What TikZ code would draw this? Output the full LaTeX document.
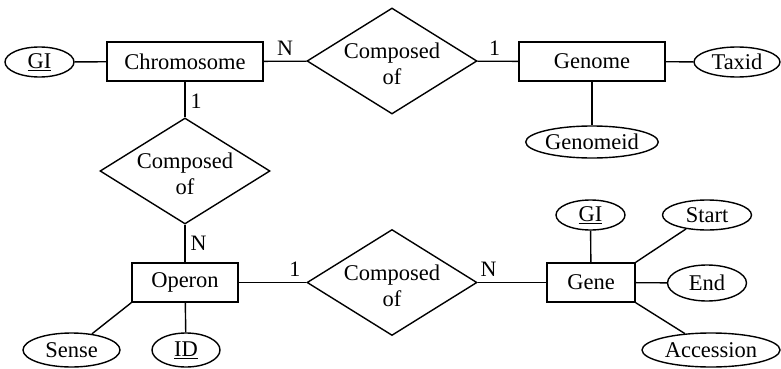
\documentclass[tikz,border=0pt]{standalone}
\usepackage{fontspec}
\setmainfont{Liberation Serif}
\usetikzlibrary{shapes.geometric}
\begin{document}
\begin{tikzpicture}[x=1pt,y=-1pt,
  every node/.style={font=\fontsize{22.5}{26}\selectfont},
  entity/.style={draw,line width=1.4pt,rectangle,minimum height=39pt,inner sep=0pt},
  attr/.style={draw,line width=1.4pt,ellipse,inner sep=0pt},
  rel/.style={draw,line width=1.4pt,diamond,inner sep=0pt,minimum width=170pt,minimum height=106pt,
    label={[align=center,yshift=-3pt,font=\fontsize{22.5}{26}\selectfont]center:Composed\\of}},
  conn/.style={line width=1.4pt},
  card/.style={font=\fontsize{22}{26}\selectfont,inner sep=5pt}]
\useasboundingbox (0,0) rectangle (781,369);

% entities
\node[entity,minimum width=156pt] (chrom) at (185,61.5) {Chromosome};
\node[entity,minimum width=146pt] (genome) at (592,61.5) {Genome};
\node[entity,minimum width=106pt] (operon) at (185,282.5) {Operon};
\node[entity,minimum width=88pt] (gene) at (591,282.5) {Gene};

% relationships
\node[rel] (r1) at (392,61) {};
\node[rel] (r2) at (185,171) {};
\node[rel] (r3) at (392,282.5) {};

% attributes
\node[attr,minimum width=69pt,minimum height=30pt] (gi1) at (39.5,62) {\underline{GI}};
\node[attr,minimum width=86pt,minimum height=30pt] (taxid) at (737,62) {Taxid};
\node[attr,minimum width=128pt,minimum height=32pt] (genomeid) at (592,142) {Genomeid};
\node[attr,minimum width=97pt,minimum height=34pt] (sense) at (71.5,350) {Sense};
\node[attr,minimum width=68pt,minimum height=34pt] (id) at (186,350) {\underline{ID}};
\node[attr,minimum width=69pt,minimum height=30pt] (gi2) at (590.5,215) {\underline{GI}};
\node[attr,minimum width=89pt,minimum height=30pt] (start) at (707,215) {Start};
\node[attr,minimum width=79pt,minimum height=36pt] (end) at (707,283) {End};
\node[attr,minimum width=138pt,minimum height=34pt] (acc) at (711,350) {Accession};

% relationship connectors with cardinalities
\draw[conn] (chrom) -- node[card,above,pos=0.5] {N} (r1);
\draw[conn] (r1) -- node[card,above,pos=0.42] {1} (genome);
\draw[conn] (chrom) -- node[card,right,pos=0.55] {1} (r2);
\draw[conn] (r2) -- node[card,right,pos=0.5] {N} (operon);
\draw[conn] (operon) -- node[card,above,pos=0.83] {1} (r3);
\draw[conn] (r3) -- node[card,above,pos=0.16] {N} (gene);

% attribute connectors
\draw[conn] (gi1) -- (chrom);
\draw[conn] (genome) -- (taxid);
\draw[conn] (genome) -- (genomeid);
\draw[conn] (operon.south west) -- (sense);
\draw[conn] (operon) -- (id);
\draw[conn] (gene) -- (gi2);
\draw[conn] (gene.north east) -- (start);
\draw[conn] (gene) -- (end);
\draw[conn] (gene.south east) -- (acc);
\end{tikzpicture}
\end{document}
